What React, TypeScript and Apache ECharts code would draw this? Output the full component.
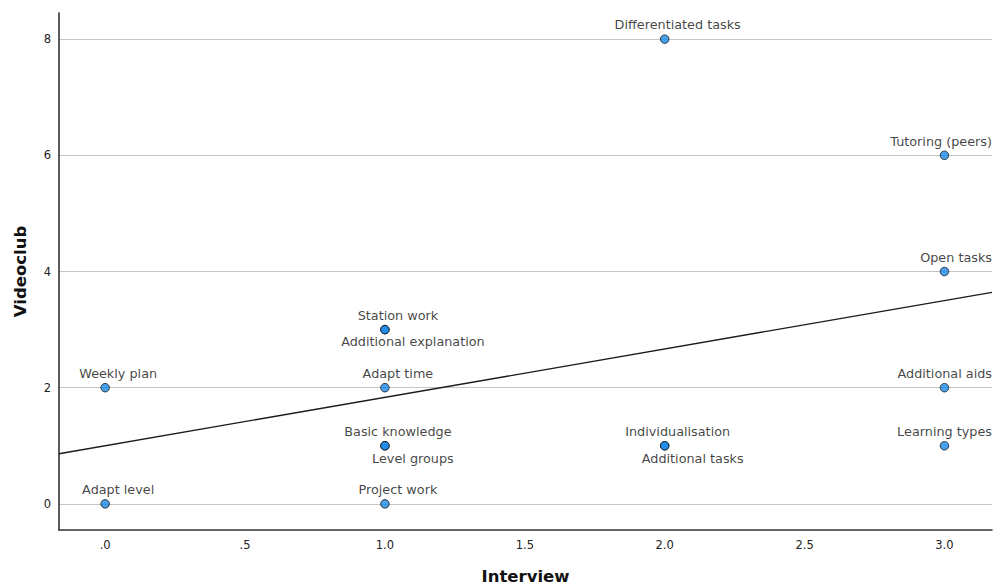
import React, { useEffect, useRef } from "react";
import * as echarts from "echarts";

const pointNames = [
  "Weekly plan",
  "Adapt level",
  "Station work",
  "Additional explanation",
  "Adapt time",
  "Basic knowledge",
  "Level groups",
  "Project work",
  "Differentiated tasks",
  "Individualisation",
  "Additional tasks",
  "Tutoring (peers)",
  "Open tasks",
  "Additional aids",
  "Learning types",
];
const interviewValues = [0, 0, 1, 1, 1, 1, 1, 1, 2, 2, 2, 3, 3, 3, 3];
const videoclubValues = [2, 0, 3, 3, 2, 1, 1, 0, 8, 1, 1, 6, 4, 2, 1];
const labelsBelow = ["Additional explanation", "Level groups", "Additional tasks"];

const xTicks = [0, 0.5, 1, 1.5, 2, 2.5, 3];
const yTicks = [0, 2, 4, 6, 8];
const xMin = -0.165;
const xMax = 3.17;
const yMin = -0.45;
const yMax = 8.45;

function fmtX(v: number) {
  return v.toFixed(1).replace(/^0\./, ".");
}

export default function App() {
  const ref = useRef<HTMLDivElement>(null);
  useEffect(() => {
    document.body.style.margin = "0";
    if (!ref.current) return;
    const chart = echarts.init(ref.current, undefined, { renderer: "svg" });

    // least-squares fit line
    const n = interviewValues.length;
    const mx = interviewValues.reduce((a, b) => a + b, 0) / n;
    const my = videoclubValues.reduce((a, b) => a + b, 0) / n;
    let sxy = 0;
    let sxx = 0;
    for (let i = 0; i < n; i++) {
      sxy += (interviewValues[i] - mx) * (videoclubValues[i] - my);
      sxx += (interviewValues[i] - mx) ** 2;
    }
    const slope = sxy / sxx;
    const intercept = my - slope * mx;

    const pts = pointNames.map((name, i) => {
      const below = labelsBelow.includes(name);
      return {
        name,
        value: [interviewValues[i], videoclubValues[i]],
        label: below
          ? { position: "bottom", distance: 1 }
          : { position: "top", distance: 3 },
      };
    });

    const gridRight = 1;
    const plotRight = chart.getWidth() - gridRight;

    chart.setOption({
      animation: false,
      grid: {
        left: 59,
        right: gridRight,
        top: 13,
        bottom: 55,
        containLabel: false,
        outerBoundsMode: "none",
      },
      xAxis: {
        type: "value",
        min: xMin,
        max: xMax,
        name: "Interview",
        nameLocation: "middle",
        nameGap: 38,
        nameTextStyle: {
          fontFamily: "DejaVu Sans",
          fontWeight: "bold",
          fontSize: 16.5,
          color: "#111",
        },
        axisLine: { show: true, onZero: false, lineStyle: { color: "#333", width: 1.6 } },
        axisTick: { show: false, customValues: xTicks },
        axisLabel: {
          customValues: xTicks,
          formatter: (v: number) => fmtX(v),
          fontFamily: "DejaVu Sans",
          fontSize: 11.5,
          color: "#222",
          margin: 9,
        },
        splitLine: { show: false },
      },
      yAxis: {
        type: "value",
        min: yMin,
        max: yMax,
        name: "Videoclub",
        nameLocation: "middle",
        nameGap: 30,
        nameTextStyle: {
          fontFamily: "DejaVu Sans",
          fontWeight: "bold",
          fontSize: 16.5,
          color: "#111",
        },
        axisLine: { show: true, onZero: false, lineStyle: { color: "#333", width: 1.6 } },
        axisTick: { show: false, customValues: yTicks },
        axisLabel: {
          customValues: yTicks,
          fontFamily: "DejaVu Sans",
          fontSize: 11.5,
          color: "#222",
          margin: 8,
        },
        splitLine: { show: true, lineStyle: { color: "#c4c4c4", width: 1 } },
      },
      series: [
        {
          type: "line",
          data: [
            [xMin, intercept + slope * xMin],
            [xMax, intercept + slope * xMax],
          ],
          symbol: "none",
          lineStyle: { color: "#1a1a1a", width: 1.3 },
          silent: true,
          z: 2,
        },
        {
          type: "scatter",
          data: pts,
          symbol: "circle",
          symbolSize: 8.5,
          itemStyle: { color: "#1a8ae8", borderColor: "#111", borderWidth: 1 },
          label: {
            show: true,
            formatter: (p: any) => p.name,
            fontFamily: "DejaVu Sans",
            fontSize: 12.8,
            color: "#111",
          },
          labelLayout: (p: any) => {
            const name = pointNames[p.dataIndex];
            const below = labelsBelow.includes(name);
            const r = p.labelRect;
            let dx = below ? 28 : 13;
            if (r.x + r.width + dx > plotRight) dx = plotRight - (r.x + r.width);
            return { dx };
          },
          z: 3,
        },
      ],
    });
    return () => chart.dispose();
  }, []);
  return <div ref={ref} style={{ width: 993, height: 585 }} />;
}
